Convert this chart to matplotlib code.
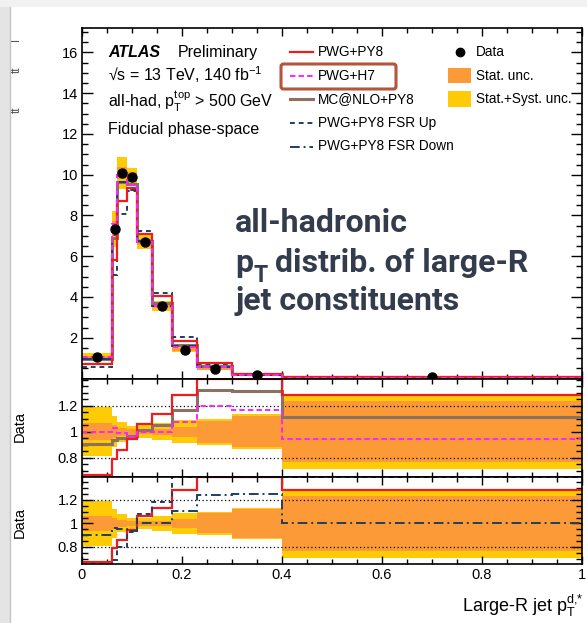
import numpy as np
import matplotlib
matplotlib.use("Agg")
import matplotlib.pyplot as plt
from matplotlib.lines import Line2D
from matplotlib.patches import Rectangle, FancyBboxPatch
from matplotlib.ticker import MultipleLocator, FixedLocator, FuncFormatter

plt.rcParams.update({
    "font.family": "Liberation Sans",
    "mathtext.fontset": "custom",
    "mathtext.rm": "Liberation Sans",
    "mathtext.it": "Liberation Sans:italic",
    "mathtext.bf": "Liberation Sans:bold",
})

# --- data ---
edges = [0.0, 0.06, 0.07, 0.09, 0.11, 0.14, 0.18, 0.23, 0.30, 0.40, 1.0]
data = [1.04, 7.35, 10.1, 9.9, 6.7, 3.55, 1.42, 0.47, 0.15, 0.05]
stat_rel = [0.064, 0.05, 0.03, 0.025, 0.02, 0.025, 0.04, 0.085, 0.12, 0.235]
tot_rel = [0.19, 0.12, 0.077, 0.045, 0.05, 0.065, 0.09, 0.10, 0.135, 0.29]

# prediction / data
r_py8 = [0.67, 0.79, 0.86, 0.945, 1.06, 1.135, 1.285, 1.6, 1.6, 1.285]
r_h7 = [0.995, 1.03, 0.99, 0.96, 1.0, 1.0, 1.075, 1.2, 1.165, 0.945]
r_mcnlo = [0.905, 0.935, 0.955, 0.965, 1.01, 1.05, 1.17, 1.325, 1.315, 1.11]
r_fsrup = [0.52, 0.69, 0.80, 0.93, 1.08, 1.18, 1.45, 1.5, 1.6, 1.5]
r_fsrdn = [0.90, 0.96, 0.955, 0.935, 1.005, 1.005, 1.11, 1.245, 1.25, 1.005]

xticks = [0, 0.2, 0.4, 0.6, 0.8, 1.0]
main_yticks = [2, 4, 6, 8, 10, 12, 14, 16]
ratio_yticks = [0.8, 1.0, 1.2]

RED = "#ee1c1c"
MAG = "#ff22ff"
BROWN = "#8c7061"
NAVY = "#1f3f60"
ORANGE = "#fb9a36"
YELLOW = "#fecb05"

W, H = 587, 623
fig = plt.figure(figsize=(W / 100, H / 100), dpi=100)


def fx(x):
    return x / W


def fy(y):
    return 1 - y / H


def px_axes(l, t, r, b):
    return fig.add_axes([l / W, 1 - b / H, (r - l) / W, (b - t) / H])


edges = np.array(edges)
data = np.array(data)
widths = np.diff(edges)
centers = edges[:-1] + widths / 2

ax = px_axes(82, 28, 582, 378.5)
r1 = px_axes(82, 378.5, 582, 477)
r2 = px_axes(82, 477, 582, 564)


def style(a, ylo, yhi, ymaj, ymin):
    a.set_xlim(0, 1)
    a.set_ylim(ylo, yhi)
    a.xaxis.set_major_locator(FixedLocator(xticks))
    a.xaxis.set_minor_locator(MultipleLocator(0.05))
    a.yaxis.set_major_locator(FixedLocator(ymaj))
    a.yaxis.set_minor_locator(MultipleLocator(ymin))
    a.tick_params(which="both", direction="in", top=True, right=True, width=1.0,
                  labelsize=10.5, pad=3)
    a.tick_params(axis="y", which="major", length=8)
    a.tick_params(axis="y", which="minor", length=4)
    a.tick_params(axis="x", which="major", length=6)
    a.tick_params(axis="x", which="minor", length=3.5)
    for s in a.spines.values():
        s.set_linewidth(1.2)
    a.yaxis.set_major_formatter(FuncFormatter(lambda v, p: f"{v:g}"))
    a.xaxis.set_major_formatter(FuncFormatter(lambda v, p: f"{v:g}"))


style(ax, 0, 17.2, main_yticks, 0.5)
style(r1, 0.652, 1.41, ratio_yticks, 0.05)
style(r2, 0.655, 1.395, ratio_yticks, 0.05)
ax.tick_params(labelbottom=False)
r1.tick_params(labelbottom=False)

# --- main panel ---
tot = np.array(tot_rel)
st = np.array(stat_rel)
ax.bar(edges[:-1], 2 * tot * data, width=widths, bottom=data * (1 - tot),
       align="edge", color=YELLOW, lw=0, zorder=1)
ax.bar(edges[:-1], 2 * st * data, width=widths, bottom=data * (1 - st),
       align="edge", color=ORANGE, lw=0, zorder=1.1)

ax.stairs(data * np.array(r_mcnlo), edges, baseline=None, color=BROWN, lw=2.2, zorder=2)
ax.stairs(data * np.array(r_fsrup), edges, baseline=None, color=NAVY, lw=1.4,
          ls=(0, (2.5, 2)), zorder=2.1)
ax.stairs(data * np.array(r_fsrdn), edges, baseline=None, color=NAVY, lw=1.4,
          ls=(0, (5, 2, 1, 2)), zorder=2.1)
ax.stairs(data * np.array(r_py8), edges, baseline=None, color=RED, lw=1.6, zorder=2.2)
ax.stairs(data * np.array(r_h7), edges, baseline=None, color=MAG, lw=1.4,
          ls=(0, (2.8, 1.6)), zorder=2.3)
ax.plot(centers, data, "o", color="k", ms=6.5, zorder=5)


# --- ratio panels ---
def ratio_panel(a, curves):
    lo, hi = a.get_ylim()
    a.bar(edges[:-1], 2 * tot, width=widths, bottom=1 - tot, align="edge",
          color=YELLOW, lw=0, zorder=1)
    a.bar(edges[:-1], 2 * st, width=widths, bottom=1 - st, align="edge",
          color=ORANGE, lw=0, zorder=1.1)
    a.axhline(0.8, color="k", ls=(0, (1, 2)), lw=0.9, zorder=1.5)
    a.axhline(1.2, color="k", ls=(0, (1, 2)), lw=0.9, zorder=1.5)
    for vals, kw in curves:
        v = np.clip(np.array(vals), lo, hi)
        a.stairs(v, edges, baseline=None, **kw)


ratio_panel(r1, [
    (r_mcnlo, dict(color=BROWN, lw=2.2, zorder=2)),
    (r_py8, dict(color=RED, lw=1.6, zorder=2.2)),
    (r_h7, dict(color=MAG, lw=1.4, ls=(0, (2.8, 1.6)), zorder=2.3)),
])
ratio_panel(r2, [
    (r_py8, dict(color=RED, lw=1.6, zorder=2.0)),
    (r_fsrup, dict(color=NAVY, lw=1.4, ls=(0, (2.5, 2)), zorder=2.2)),
    (r_fsrdn, dict(color=NAVY, lw=1.4, ls=(0, (5, 2, 1, 2)), zorder=2.3)),
])

fig.text(fx(583), fy(612), r"Large-R jet $\mathrm{p}_{\mathrm{T}}^{\mathrm{d}{,}\mathrm{*}}$",
         ha="right", va="baseline", fontsize=13)
fig.text(fx(20), fy(427), "Data", rotation=90, ha="center", va="center", fontsize=10.5)
fig.text(fx(20), fy(523), "Data", rotation=90, ha="center", va="center", fontsize=10.5)

# what is left visible of the main y title (cut by the screenshot edge)
for yy, frag in [(40, "T"), (70, "tt"), (110, "tt")]:
    fig.text(fx(17), fy(yy), frag, rotation=90, ha="center", va="center",
             fontsize=8.5, color="#555555")

# --- ATLAS labels ---
fig.text(fx(108), fy(57), "ATLAS", fontsize=11.5, fontweight="bold", fontstyle="italic",
         va="baseline")
fig.text(fx(178), fy(57), "Preliminary", fontsize=11.5, va="baseline")
fig.text(fx(108), fy(81), "√s = 13 TeV, 140 fb$^{-1}$", fontsize=11.5, va="baseline")
fig.text(fx(108), fy(107), r"all-had, $\mathrm{p}_{\mathrm{T}}^{\mathrm{top}}$ > 500 GeV",
         fontsize=11.5, va="baseline")
fig.text(fx(108), fy(134), "Fiducial phase-space", fontsize=11.5, va="baseline")

# --- legend ---
rows = [51.5, 75.5, 99, 122.5, 146.5]
leg = [
    ("PWG+PY8", dict(color=RED, lw=1.6)),
    ("PWG+H7", dict(color=MAG, lw=1.4, ls=(0, (2.8, 1.6)))),
    ("MC@NLO+PY8", dict(color=BROWN, lw=2.2)),
    ("PWG+PY8 FSR Up", dict(color=NAVY, lw=1.4, ls=(0, (2.5, 2)))),
    ("PWG+PY8 FSR Down", dict(color=NAVY, lw=1.4, ls=(0, (5, 2, 1, 2)))),
]
for yy, (lab, kw) in zip(rows, leg):
    fig.add_artist(Line2D([fx(290), fx(313)], [fy(yy), fy(yy)], **kw))
    fig.text(fx(318), fy(yy), lab, fontsize=9.8, va="center")

fig.add_artist(Line2D([fx(460)], [fy(rows[0])], marker="o", color="k", ms=6, ls=""))
fig.text(fx(476), fy(rows[0]), "Data", fontsize=9.8, va="center")
for yy, lab, col in [(rows[1], "Stat. unc.", ORANGE), (rows[2], "Stat.+Syst. unc.", YELLOW)]:
    fig.add_artist(Rectangle((fx(448), fy(yy + 7.5)), (471 - 448) / W, 15 / H,
                             color=col, lw=0, transform=fig.transFigure))
    fig.text(fx(476), fy(yy), lab, fontsize=9.8, va="center")

fig.add_artist(FancyBboxPatch((fx(281), fy(89)), (396 - 281) / W, 25 / H,
                              boxstyle="round,pad=0,rounding_size=0.004",
                              fill=False, ec="#b4553c", lw=2.2,
                              transform=fig.transFigure, zorder=10))

# --- overlay annotation ---
OV = "#323c4c"
ofs = 23
fig.text(fx(235), fy(231.5), "all-hadronic", fontsize=ofs, fontweight="bold",
         family="Roboto", color=OV, va="baseline")
fig.canvas.draw()
rend = fig.canvas.get_renderer()
tp = fig.text(fx(235), fy(271.5), "p", fontsize=ofs, fontweight="bold",
              family="Roboto", color=OV, va="baseline")
pw = tp.get_window_extent(rend).x1
tt = fig.text(pw / W, fy(282), "T", fontsize=ofs * 0.72, fontweight="bold",
              family="Roboto", color=OV, va="baseline")
tw = tt.get_window_extent(rend).x1
fig.text(tw / W, fy(271.5), " distrib. of large-R", fontsize=ofs, fontweight="bold",
         family="Roboto", color=OV, va="baseline")
fig.text(fx(235), fy(310.5), "jet constituents", fontsize=ofs, fontweight="bold",
         family="Roboto", color=OV, va="baseline")

# screenshot border
fig.add_artist(Rectangle((0, 0), fx(10), 1, color="#e4e4e4", lw=0,
                         transform=fig.transFigure, zorder=20))
fig.add_artist(Line2D([fx(9.5), fx(9.5)], [0, fy(7)], color="#c4c4c4", lw=1, zorder=21))
fig.add_artist(Rectangle((0, fy(7)), 1, 7 / H, color="#f1f1f1", lw=0,
                         transform=fig.transFigure, zorder=20))

fig.savefig("out.png", dpi=100)
